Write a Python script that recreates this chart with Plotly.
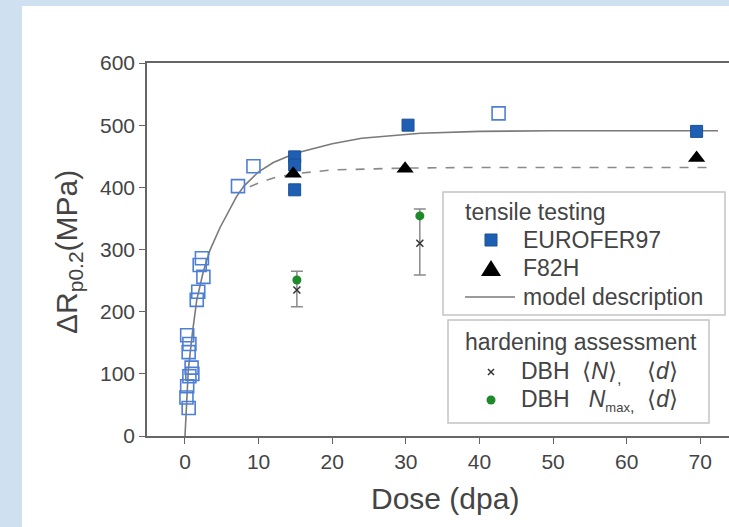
import plotly.graph_objects as go

# ---- data ----
euro_fill_x = [14.9, 14.9, 14.9, 30.3, 69.5]
euro_fill_y = [449, 436, 396, 500, 490]

euro_open_x = [0.3, 0.6, 0.5, 0.9, 0.6, 0.3, 0.2, 0.5, 1.0, 1.6, 1.8, 2.5, 2.3, 2.0, 7.2, 9.3, 42.6]
euro_open_y = [162, 148, 135, 110, 96, 80, 62, 45, 100, 219, 232, 256, 286, 275, 402, 434, 519]

f82h_x = [14.7, 29.9, 69.5]
f82h_y = [422, 430, 447]

dbh_n_x = [15.2, 31.9]
dbh_n_y = [235, 310]
dbh_err_plus = [30, 55]
dbh_err_minus = [27, 51]

dbh_max_x = [15.2, 31.9]
dbh_max_y = [251, 354]

model_x = [0, 0.15, 0.45, 1.0, 1.6, 2.5, 3.4, 4.75, 6.0, 7.0, 8.0, 9.0, 10.0, 12.0, 15.0, 20.0, 24.0, 32.0, 40.0, 50.0, 60.0, 72.4]
model_y = [0, 42, 106, 165, 219, 265, 299, 335, 362, 385, 402, 414, 425, 440, 455, 470, 479, 487, 490, 491, 491, 491]

f82h_model_x = [8.8, 10.0, 12.0, 15.0, 20.0, 25.0, 30.0, 40.0, 50.0, 60.0, 72.0]
f82h_model_y = [401, 407, 415, 422, 428, 430, 431, 432, 432, 432, 432]

x_ticks = [0, 10, 20, 30, 40, 50, 60, 70]
y_ticks = [0, 100, 200, 300, 400, 500, 600]

x_title = "Dose (dpa)"
y_title = "\u0394R<sub>p0.2</sub>(MPa)"
legend1_title = "tensile testing"
legend1_labels = ["EUROFER97", "F82H", "model description"]
legend2_title = "hardening assessment"
legend2_labels = ["DBH  \u27e8<i>N</i>\u27e9<sub>,</sub>    \u27e8<i>d</i>\u27e9",
                  "DBH   <i>N</i><sub><span style=\"font-size:13px\">max</span>,</sub>  \u27e8<i>d</i>\u27e9"]

FONT = "Liberation Sans, Arial, sans-serif"
TXT = "#444444"
BLUE = "#1f5fb3"
OPEN_BLUE = "#4d7fd6"
GREEN = "#1f8a2c"
BOX = "#c4c4c4"

fig = go.Figure()

fig.add_trace(go.Scatter(x=model_x, y=model_y, mode="lines",
                         line=dict(color="#7a7a7a", width=1.6), showlegend=False))
fig.add_trace(go.Scatter(x=f82h_model_x, y=f82h_model_y, mode="lines",
                         line=dict(color="#8a8a8a", width=1.6, dash="dash"),
                         showlegend=False))
fig.add_trace(go.Scatter(x=euro_open_x, y=euro_open_y, mode="markers",
                         marker=dict(symbol="square-open", size=13, color=OPEN_BLUE,
                                     line=dict(width=1.6, color=OPEN_BLUE)),
                         showlegend=False))
fig.add_trace(go.Scatter(x=euro_fill_x, y=euro_fill_y, mode="markers",
                         marker=dict(symbol="square", size=12, color=BLUE,
                                     line=dict(width=1, color="#1a4f96")),
                         showlegend=False))
fig.add_trace(go.Scatter(x=f82h_x, y=f82h_y, mode="markers",
                         marker=dict(symbol="triangle-up", size=15, color="black"),
                         showlegend=False))
fig.add_trace(go.Scatter(x=dbh_n_x, y=dbh_n_y, mode="markers",
                         marker=dict(symbol="x-thin", size=7, color="#333333",
                                     line=dict(width=1.5, color="#333333")),
                         error_y=dict(type="data", symmetric=False, array=dbh_err_plus,
                                      arrayminus=dbh_err_minus, color="#8a8a8a",
                                      thickness=1.5, width=6),
                         showlegend=False))
fig.add_trace(go.Scatter(x=dbh_max_x, y=dbh_max_y, mode="markers",
                         marker=dict(symbol="circle", size=9, color=GREEN),
                         showlegend=False))

W, H = 729, 527
L, R, T, B = 147, 0, 63, 91
pw = W - L - R
ph = H - T - B

def px(xp):
    return (xp - L) / pw

def py(yp):
    return (H - B - yp) / ph

LEG_FONT = 23

def txt(text, x, y, size=LEG_FONT, xanchor="left", angle=0):
    return dict(text=text, xref="paper", yref="paper", x=px(x), y=py(y),
                showarrow=False, font=dict(size=size, color=TXT, family=FONT),
                xanchor=xanchor, yanchor="middle", textangle=angle)

def pshape(**kw):
    d = dict(xref="paper", yref="paper", layer="above")
    d.update(kw)
    return d

def path(points):
    return "M" + " L".join(f"{px(a):.5f},{py(b):.5f}" for a, b in points) + " Z"

shapes = [
    dict(type="rect", xref="paper", yref="paper",
         x0=px(22), x1=px(W + 5), y0=py(H + 5), y1=py(6),
         fillcolor="white", line=dict(width=0), layer="below"),
    # legend boxes
    pshape(type="rect", x0=px(443), x1=px(725), y0=py(315), y1=py(192),
           fillcolor="white", line=dict(width=1.5, color=BOX)),
    pshape(type="rect", x0=px(448), x1=px(709), y0=py(423), y1=py(320),
           fillcolor="white", line=dict(width=1.5, color=BOX)),
    # legend symbols
    pshape(type="rect", x0=px(485), x1=px(497), y0=py(246), y1=py(234),
           fillcolor=BLUE, line=dict(width=1, color="#1a4f96")),
    pshape(type="path", path=path([(481, 276), (501, 276), (491, 260)]),
           fillcolor="black", line=dict(width=0)),
    pshape(type="line", x0=px(465), x1=px(515), y0=py(297), y1=py(297),
           line=dict(width=1.6, color="#7a7a7a")),
    pshape(type="line", x0=px(488), x1=px(494), y0=py(369), y1=py(375),
           line=dict(width=1.5, color="#333333")),
    pshape(type="line", x0=px(488), x1=px(494), y0=py(375), y1=py(369),
           line=dict(width=1.5, color="#333333")),
    pshape(type="circle", x0=px(486.5), x1=px(495.5), y0=py(404.5), y1=py(395.5),
           fillcolor=GREEN, line=dict(width=0)),
]

annotations = [
    txt(x_title, 445, 498, size=30, xanchor="center"),
    txt(y_title, 68, 252, size=30, xanchor="center", angle=-90),
    txt(legend1_title, 463, 212),
    txt(legend1_labels[0], 521, 240),
    txt(legend1_labels[1], 521, 268),
    txt(legend1_labels[2], 521, 297),
    txt(legend2_title, 463, 342),
    txt(legend2_labels[0], 519, 372),
    txt(legend2_labels[1], 519, 400),
]

fig.update_layout(
    width=W, height=H,
    margin=dict(l=L, r=R, t=T, b=B),
    paper_bgcolor="#cfe1f0",
    plot_bgcolor="white",
    showlegend=False,
    font=dict(family=FONT, color=TXT, size=20),
    xaxis=dict(range=[-5.16, 73.9], tickvals=x_ticks, ticks="outside", ticklen=6,
               tickcolor="#666", showline=True, linecolor="#666", linewidth=1.5,
               mirror=True, showgrid=False, zeroline=False,
               tickfont=dict(size=21, color=TXT, family=FONT)),
    yaxis=dict(range=[0, 600], tickvals=y_ticks, ticks="outside", ticklen=6,
               tickcolor="#666", showline=True, linecolor="#666", linewidth=1.5,
               showgrid=False, zeroline=False,
               tickfont=dict(size=21, color=TXT, family=FONT)),
    shapes=shapes,
    annotations=annotations,
)

fig.write_html("out.html")
